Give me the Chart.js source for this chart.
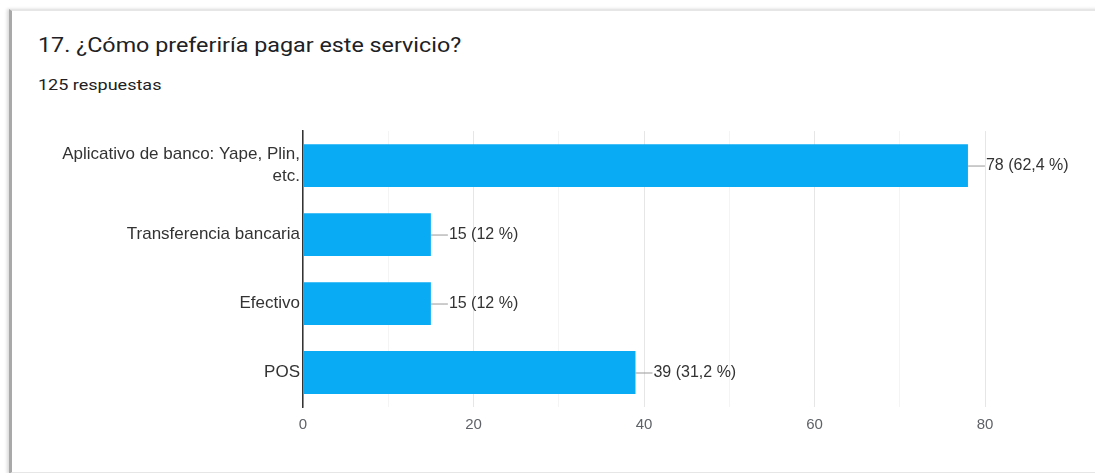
<!DOCTYPE html>
<html lang="es">
<head>
<meta charset="UTF-8">
<title>17. ¿Cómo preferiría pagar este servicio?</title>
<script src="https://cdn.jsdelivr.net/npm/chart.js"></script>
<style>
    html, body { margin: 0; padding: 0; background: #fff; }
    body { width: 1095px; height: 473px; position: relative; overflow: hidden; font-family: Roboto, Arial, sans-serif; }
    #card {
        position: absolute; left: 9px; top: 9px; width: 1100px; height: 461px;
        border-top: 2px solid #e6e6e6; border-bottom: 2px solid #e6e6e6;
        border-left: 3px solid #a9a9a9;
        box-shadow: -2px 0 3px rgba(0,0,0,0.15);
        background: #fff;
    }
    #title { position: absolute; left: 38px; top: 33px; font-size: 21px; color: #202124; transform: scaleX(1.11); transform-origin: left; white-space: nowrap; }
    #sub { position: absolute; left: 38px; top: 76px; font-size: 15px; color: #202124; transform: scaleX(1.2); transform-origin: left; white-space: nowrap; }
    #wrap { position: absolute; left: 0; top: 117px; width: 1095px; height: 343px; }
</style>
</head>
<body>
<div id="card"></div>
<div id="title">17. ¿Cómo preferiría pagar este servicio?</div>
<div id="sub">125 respuestas</div>
<div id="wrap"><canvas id="chart"></canvas></div>

<script>
    // datos
    const categorias = [
        ['Aplicativo de banco: Yape, Plin,', 'etc.'],
        'Transferencia bancaria',
        'Efectivo',
        'POS'
    ];
    const respuestas = [78, 15, 15, 39];
    const etiquetas = ['78 (62,4 %)', '15 (12 %)', '15 (12 %)', '39 (31,2 %)'];
    const ticksX = [0, 20, 40, 60, 80];

    // etiqueta con línea guía al final de cada barra
    const etiquetaBarra = {
        id: 'etiquetaBarra',
        afterDatasetsDraw(chart) {
            const ctx = chart.ctx;
            const meta = chart.getDatasetMeta(0);
            ctx.save();
            ctx.font = '16px Arial, sans-serif';
            ctx.textBaseline = 'middle';
            meta.data.forEach((bar, i) => {
                const x = bar.x, y = bar.y;
                ctx.strokeStyle = '#999';
                ctx.lineWidth = 1;
                ctx.beginPath();
                ctx.moveTo(x, y + 0.5);
                ctx.lineTo(x + 17, y + 0.5);
                ctx.stroke();
                ctx.fillStyle = '#333';
                ctx.fillText(etiquetas[i], x + 18, y);
            });
            ctx.restore();
        }
    };

    new Chart(document.getElementById('chart'), {
        type: 'bar',
        data: {
            labels: categorias,
            datasets: [{
                data: respuestas,
                backgroundColor: '#0AABF5',
                borderWidth: 0,
                categoryPercentage: 0.62,
                barPercentage: 1
            }]
        },
        options: {
            indexAxis: 'y',
            responsive: true,
            maintainAspectRatio: false,
            animation: false,
            layout: { padding: { top: 7, right: 110, left: 0, bottom: 0 } },
            plugins: {
                legend: { display: false },
                tooltip: { enabled: false }
            },
            scales: {
                x: {
                    min: 0,
                    max: 80,
                    afterFit(scale) { scale.height = 53; },
                    ticks: {
                        stepSize: 10,
                        autoSkip: false,
                        maxRotation: 0,
                        padding: 9,
                        color: '#5f6368',
                        font: { size: 15, family: 'Arial, sans-serif' },
                        callback: (v) => ticksX.includes(v) ? v : ''
                    },
                    grid: {
                        drawTicks: false,
                        color: (c) => ticksX.includes(c.tick && c.tick.value) ? '#e6e6e6' : '#f4f4f4'
                    },
                    border: { display: false }
                },
                y: {
                    afterFit(scale) { scale.width = 303; },
                    ticks: {
                        padding: 3,
                        color: '#333',
                        font: { size: 17, family: 'Arial, sans-serif', lineHeight: 1.3 }
                    },
                    grid: { display: false, drawTicks: false },
                    border: { display: true, color: '#333', width: 1.5 }
                }
            }
        },
        plugins: [etiquetaBarra]
    });
</script>
</body>
</html>
